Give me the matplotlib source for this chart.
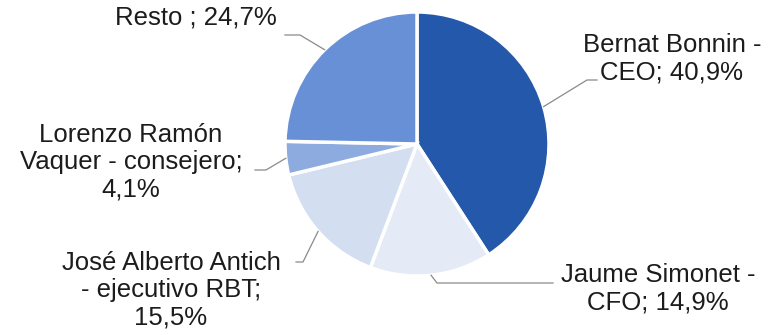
import matplotlib
matplotlib.use('Agg')
import numpy as np
from matplotlib import pyplot as plt
from matplotlib.lines import Line2D
from matplotlib.transforms import IdentityTransform

# data
labels = ['Bernat Bonnin -\nCEO; 40,9%',
          'Jaume Simonet -\nCFO; 14,9%',
          'José Alberto Antich\n- ejecutivo RBT;\n15,5%',
          'Lorenzo Ramón\nVaquer - consejero;\n4,1%',
          'Resto ; 24,7%']
shares = [40.9, 14.9, 15.5, 4.1, 24.7]
colors = ['#2458AA', '#E4EBF6', '#D3DEF1', '#8EABE0', '#6890D6']

W, H = 771, 335
fig = plt.figure(figsize=(W / 100, H / 100), dpi=100)
fig.patch.set_facecolor('white')

# pie centre / radius in pixels (from top-left)
cx, cy, r = 417, 144, 132
ax = fig.add_axes([(cx - r) / W, (H - cy - r) / H, 2 * r / W, 2 * r / H])
wedges, _ = ax.pie(shares, colors=colors, startangle=90, counterclock=False, radius=1,
                   wedgeprops=dict(edgecolor='white', linewidth=2.5))
ax.set_xlim(-1, 1)
ax.set_ylim(-1, 1)
ax.set_aspect('equal')
ax.axis('off')

plt.rcParams['font.family'] = ['Liberation Sans', 'DejaVu Sans']
fs = 18.5

# text centres (px from top-left) and leader bends (outer end first)
text_pos = [(672, 59), (658, 289), (171, 290), (131, 162), (196, 17)]
leader_pts = [
    [(597, 80), (587, 80)],
    [(553, 283), (437, 283)],
    [(296, 262), (303, 262)],
    [(255, 170), (266, 170)],
    [(285, 35), (300, 35)],
]

fig.canvas.draw()
for w, lab, (tx, ty), pts in zip(wedges, labels, text_pos, leader_pts):
    fig.text(tx / W, 1 - ty / H, lab, ha='center', va='center', fontsize=fs,
             color='#1c1c1c', linespacing=1.17)
    mid = np.deg2rad((w.theta1 + w.theta2) / 2)
    ex, ey = ax.transData.transform((np.cos(mid), np.sin(mid)))
    xs = [p[0] for p in pts] + [ex]
    ys = [H - p[1] for p in pts] + [ey]
    fig.add_artist(Line2D(xs, ys, transform=IdentityTransform(), color='#8a8a8a', lw=0.9))

plt.savefig('out.png', dpi=100, facecolor='white')
